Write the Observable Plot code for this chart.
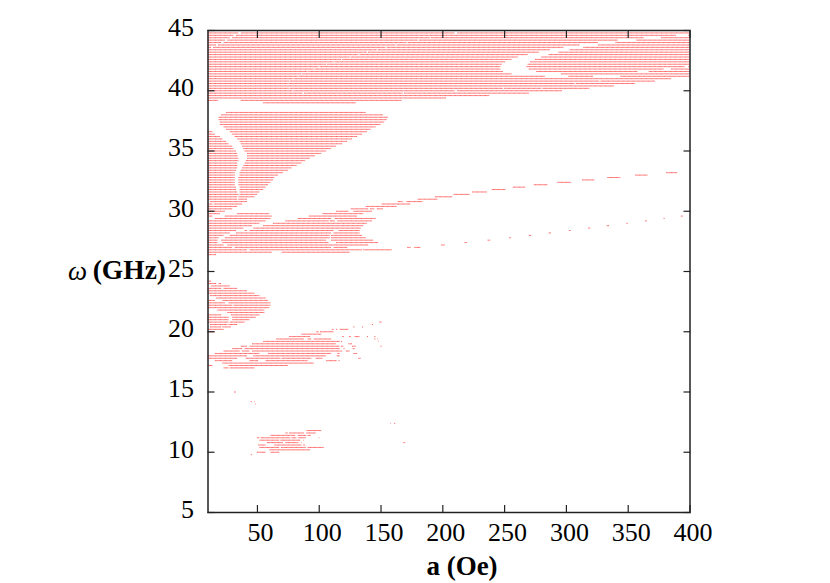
<!DOCTYPE html>
<html><head><meta charset="utf-8">
<style>html,body{margin:0;padding:0;background:#fff}svg{display:block}</style>
<script src="https://cdn.jsdelivr.net/npm/d3@7"></script>
<script src="https://cdn.jsdelivr.net/npm/@observablehq/plot@0.6"></script>
</head><body><div id="chart"></div>
<script>
// each row: omega (GHz), then pairs of a (Oe) start/end of the occupied runs
const upperBand = [
[44.8,10,35,37,210,212,400],[44.6,10,31,33,389,399,400],[44.4,10,28,30,190,190.8,363,377,400],
[44.2,10,24,26,180,181,342,357,400],[44.0,10,21,23,171,172,326,340,400],[43.8,10,17,18.5,162,163,311,326,400],
[43.6,10,13,14.5,154,155,298,314,400],[43.4,10,147,147.8,287,303,400],[43.2,10,139,139.8,278,294,400],
[43.0,10,132,133,269,286,400],[42.8,10,125,125.8,261,280,400],[42.6,10,118,119,256,275,400],
[42.4,10,112,112.8,251,271,400],[42.2,10,106,106.8,248,269,400],[42.0,10,100,100.8,247,268,396,399,400],
[41.8,10,96,96.6,247,270,379,385,400],[41.6,10,91,91.6,249,276,358,367,400],[41.4,10,86,86.6,256,296,400],
[41.2,10,83,83.6,283,302,322,344,400],[41.0,10,79,79.6,385],[40.8,10,76,76.6,327,328,372],
[40.6,10,75,75.6,307,308,356],[40.4,10,339],[40.2,10,76,76.6,249,250,280,281,319],
[40.0,10,79,79.6,210,212,297],[39.8,10,87,88,168,169,270],[39.6,10,238],[39.4,10,203],
[39.2,10,18.5,37,167],[39.0,55,130]
];
const lobe = [
[38.2,25,138],[38.0,21,152],[37.8,19,156],[37.6,19,155],[37.4,20,153],[37.2,20,150],[37.0,23,146],[36.8,25,142],
[36.6,10,14,28,139],[36.4,10,16,30,135],[36.2,10,20,32,131],[36.0,10,22,34,127],[35.8,10,25,36,123],
[35.6,10,27,37,119],[35.4,10,30,38,114],[35.2,10,31,39,110],[35.0,10,33,40,106],[34.8,10,34,42,102],
[34.6,10,34.5,42,97],[34.4,10,35,42,93],[34.2,10,35,41,89],[34.0,10,34,40,86],[33.8,10,34,39,82],
[33.6,10,34,38,78],[33.4,10,33,37,75],[33.2,10,32,36,71],[33.0,10,32,36,67],[32.8,10,32,35,64],
[32.6,10,32,35,63],[32.4,10,32,35,61],[32.2,10,32,35,59],[32.0,10,33,36,57],[31.8,10,33,36,55],
[31.6,10,34,36,52],[31.4,10,35,36,50],[31.2,10,34,35,48],[31.0,10,34,35,42],[30.8,12,14,14,34,34,42],
[30.6,10,14,15,30,30,38],[30.4,10,34],[30.2,10,30]
];
const middleBand = [
[30.0,10,24,114,124,128,143],[29.8,10,20,34,60,103,136],[29.6,10,14,24,62,92,131],[29.4,16,61,83,110,113,146],
[29.2,10,57,73,108,109,113,115,143],[29.0,10,52,63,139],[28.8,10,46,55,136],[28.6,10,39,47,134],
[28.4,10,33,40,42,44,112,116,133],[28.2,10,28,33,110,112,133],[28.0,10,23,28,109,110,135],
[27.8,10,19,24,109,110,138],[27.6,10,18,21,106,110,144],[27.4,10,18,22,108,114,148],[27.2,10,23,26,140],
[27.0,10,30,32,110,112,123],[26.8,10,42,44,135,136,159],[26.6,10,62,70,125],[26.4,10,17]
];
const upperBranch = [
[30.2,126,140,141.5,145,147,152],[30.4,138,163],[30.6,151,174],[30.8,164,168,171,184],[31.0,180,196],
[31.2,194,208],[31.4,209,222],[31.6,224,236],[31.8,240,251],[32.0,257,267],[32.2,274,285],[32.4,293,304],
[32.6,313,323],[32.8,333.5,344],[33.0,356,366],[33.2,381,390]
];
const lowerBranch = [
[27.0,171.6,174.3,177.3,182.4],[27.2,199,202],[27.4,218,220],[27.6,236.6,238.8],[27.8,254,255.5],[28.0,270,272],
[28.2,286,288],[28.4,302.4,303.8],[28.6,318,319.7],[28.8,333,335],[29.0,349,350.2],[29.2,364,365.5],
[29.4,379,380],[29.6,393,394.6]
];
const lowerLobe = [
[24.2,10,13],[24.0,10,17,19,21],[23.8,13,28],[23.6,10,21,23,34],[23.4,10,42],[23.2,10,48],[23.0,12,52],[22.8,17,57],
[22.6,10,16,22,59],[22.4,10,24,27,61],[22.2,10,30,31,61],[22.0,10,60],[21.8,18,56],[21.6,26,56],[21.4,10,21,29,52],
[21.2,10,27,30,49],[21.0,10,27,30,44],[20.8,10,27,28,40],[20.6,12,26,27,34],[20.4,12,21,22,29],[20.2,10,23],[20.0,10,16]
];
const band18 = [
[20.8,149,151],[20.6,143,144],[20.4,128,129,135,136],[20.2,110.5,112,114,115,117,124],[20.0,98,100,101,112],
[19.8,86,102],[19.6,76,93,119,120.5,124.5,126,129,133,139,140,145,146],[19.4,65.5,88,91,94,96,110,145,146,147.5,148],
[19.2,55,117,118,119,148,148.5],[19.0,46,114,124,127],[18.8,37,42,44,117,118,120,127,130,150,151],
[18.6,30,38,40,117,120,121,127.5,129],[18.4,23,36,38,44,46,119,122,125],[18.2,16,52,59,110,115,117,128,131],
[18.0,10,42,47,106,114.5,117],[17.8,10,34,41,69,70,94,97.5,103,132,134],[17.6,16,30,44,51,57,91,106,114.5,116,117],
[17.4,22,96],[17.2,10,14,27,75],[17.0,23,27,28,48]
];
const sparse = [[15.0,31.5,33],[14.2,45,46,48,48.5],[14.0,48.5,49],[12.4,158,158.5,161,162]];
const island = [
[11.8,90,102],[11.6,73,75,76,88,90,97.5],[11.4,61,81,83,90,91,93.5],[11.2,50,52,53,77,78,82,83.5,89.5,100,100.5],
[11.0,52,68,69,84,84,85,87.5,88],[10.8,58,71,73,83.5,85.5,86,168.5,170],[10.6,51,57,64,86,87.5,89],
[10.4,52,68,69.5,89.5,91,104],[10.2,60,93],[10.0,50,57,61,68],[9.8,45,46]
];
const xTicks = [50,100,150,200,250,300,350,400];
const yTicks = [5,10,15,20,25,30,35,40,45];

const rows = [...upperBand,...lobe,...middleBand,...upperBranch,...lowerBranch,...lowerLobe,...band18,...sparse,...island];
const runs = rows.flatMap(([w,...p]) => {
  const out = [];
  for (let i = 0; i < p.length; i += 2) out.push({w, a1:p[i], a2:p[i+1]});
  return out;
});
const serif = "'Liberation Serif', serif";
const ink = "#222";
const plot = Plot.plot({
  width: 830, height: 583,
  marginLeft: 207.5, marginRight: 140.5, marginTop: 30, marginBottom: 71,
  style: {fontFamily: serif, background: "#fff", color: "#000"},
  x: {domain: [10,400]},
  y: {domain: [5,45]},
  marks: [
    Plot.ruleY(runs, {y:"w", x1:"a1", x2:"a2", stroke:"#ff0000", strokeWidth:0.85, strokeOpacity:0.72, strokeDasharray:"1.1 0.15", shapeRendering:"geometricPrecision"}),
    Plot.axisX({anchor:"bottom", ticks:xTicks, tickSize:-7, text:null, label:null, stroke:ink, strokeWidth:1.2}),
    Plot.axisX({anchor:"top", ticks:xTicks, tickSize:-7, text:null, label:null, stroke:ink, strokeWidth:1.2}),
    Plot.axisY({anchor:"left", ticks:yTicks, tickSize:-7, text:null, label:null, stroke:ink, strokeWidth:1.2}),
    Plot.axisY({anchor:"right", ticks:yTicks, tickSize:-7, text:null, label:null, stroke:ink, strokeWidth:1.2}),
    Plot.axisX({anchor:"bottom", ticks:xTicks, tickSize:0, tickPadding:10, dx:3, label:null, fontSize:26, fill:"#000"}),
    Plot.axisY({anchor:"left", ticks:yTicks, tickSize:0, tickPadding:14, dy:-3, label:null, fontSize:26, fill:"#000"}),
    Plot.frame({stroke:ink, strokeWidth:1.5}),
    Plot.text(["a (Oe)"], {frameAnchor:"bottom", dx:13, dy:62, fontSize:27, fontWeight:"bold", fill:"#000"}),
    Plot.text(["ω"], {frameAnchor:"left", dx:-140, dy:0, fontSize:27, fontStyle:"italic", fill:"#000"}),
    Plot.text(["(GHz)"], {frameAnchor:"left", dx:-42, dy:-1, textAnchor:"end", fontSize:27.5, fontWeight:"bold", fill:"#000"})
  ]
});
document.getElementById("chart").append(plot);
</script></body></html>
